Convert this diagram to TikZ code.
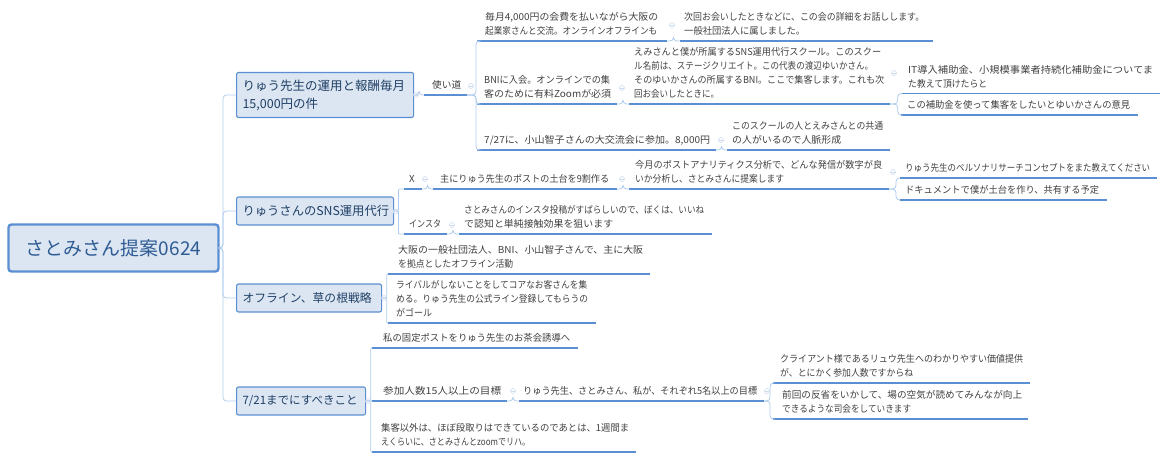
\documentclass[tikz,border=0pt]{standalone}
\usepackage{fontspec}
\setmainfont{Noto Sans CJK JP}
\usetikzlibrary{calc}
\definecolor{boxfill}{HTML}{DCE6F2}
\definecolor{boxline}{HTML}{5B8FD3}
\definecolor{connline}{HTML}{AECBEE}
\definecolor{navy}{HTML}{1F3F66}
\definecolor{rootink}{HTML}{2F5C94}
\definecolor{ink}{HTML}{404040}
\definecolor{dotc}{HTML}{CFDBEE}
\tikzset{
  rootbox/.style={draw=boxline,fill=boxfill,line width=2.4pt,rounded corners=3pt,inner sep=0pt,text=rootink,font=\fontsize{19}{23}\selectfont},
  mainbox/.style={draw=boxline,fill=boxfill,line width=1.1pt,rounded corners=2pt,inner sep=0pt,text=navy,align=left},
  topictext/.style={anchor=south west,inner sep=0pt,text depth=5pt,text=ink,align=left,font=\fontsize{9.6}{14}\selectfont},
  uline/.style={draw=boxline,line width=1.3pt},
  conn/.style={draw=connline,line width=.8pt,rounded corners=3.5pt},
  sqconn/.style={draw=connline,line width=.8pt,rounded corners=.8pt},
  dotm/.style={circle,draw=dotc,line width=.6pt,minimum size=5pt,inner sep=0pt,
    path picture={\draw[dotc,line width=.5pt] (path picture bounding box.west) -- (path picture bounding box.east);}}
}
% one text line stretched or narrowed to a given width
\newsavebox{\fitbox}
\newcommand{\fl}[2]{\sbox{\fitbox}{#2}\pgfmathsetmacro{\fitr}{#1/\the\wd\fitbox}\scalebox{\fitr}[1]{\usebox{\fitbox}}}
% name, x0, x1, y, text x, lines
\newcommand{\topic}[6]{%
  \coordinate (#1-l) at (#2,#4);
  \coordinate (#1-r) at (#3,#4);
  \node[topictext] (#1) at (#5,#4-1) {#6};
  \draw[uline] (#1-l) -- (#1-r);
}
% from, to, fraction of gap where the vertical runs
\newcommand{\link}[3]{\draw[conn] (#1) -- ($(#1)!#3!(#2 |- #1)$) |- (#2);}
\newcommand{\slink}[3]{\draw[sqconn] (#1) -- ($(#1)!#3!(#2 |- #1)$) |- (#2);}
\begin{document}
\begin{tikzpicture}[x=1pt,y=-1pt]
\useasboundingbox (0,0) rectangle (1169,462);
% root and main branches
\node[rootbox,minimum width=210pt,minimum height=47pt] (root) at (113.5,248) {さとみさん提案0624};
\node[mainbox,anchor=west,minimum width=177pt,minimum height=45pt,text width=165pt,inner xsep=6pt,font=\fontsize{12.5}{18}\selectfont] (b1) at (236,95) {りゅう先生の運用と報酬毎月\\15,000円の件};
\node[mainbox,anchor=west,minimum width=157pt,minimum height=28pt,text width=145pt,inner xsep=6pt,font=\fontsize{12.3}{18}\selectfont] (b2) at (236,211) {りゅうさんのSNS運用代行};
\node[mainbox,anchor=west,minimum width=145pt,minimum height=28pt,text width=133pt,inner xsep=6pt,font=\fontsize{11.8}{18}\selectfont] (b3) at (236,298) {オフライン、草の根戦略};
\node[mainbox,anchor=west,minimum width=129pt,minimum height=28pt,text width=117pt,inner xsep=6pt,font=\fontsize{11.5}{18}\selectfont] (b4) at (236,401) {7/21までにすべきこと};
\foreach \b in {b1,b2,b3,b4} {\draw[conn] (root.east) -- (223,248) |- (\b.west);}
% branch 1
\topic{use}{424}{467}{95}{432}{\fl{29}{使い道}}
\topic{a1}{477}{667}{41}{485}{\fl{173}{毎月4,000円の会費を払いながら大阪の}\\\fl{172}{起業家さんと交流。オンラインオフラインも}}
\topic{a1b}{680}{933}{41}{684}{\fl{240}{次回お会いしたときなどに、この会の詳細をお話しします。}\\\fl{121}{一般社団法人に属しました。}}
\topic{a2}{477}{617}{104}{484}{\fl{126}{BNIに入会。オンラインでの集}\\\fl{127}{客のために有料Zoomが必須}}
\topic{a2b}{629}{890}{104}{634}{\fl{247}{えみさんと僕が所属するSNS運用代行スクール。このスクー}\\\fl{239}{ル名前は、ステージクリエイト。この代表の渡辺ゆいかさん。}\\\fl{250}{そのゆいかさんの所属するBNI。ここで集客します。これも次}\\\fl{85}{回お会いしたときに。}}
\topic{a2c}{901}{1160}{93.5}{908}{\fl{245}{IT導入補助金、小規模事業者持続化補助金についてま}\\\fl{79}{た教えて頂けたらと}}
\topic{a2d}{901}{1138}{115}{907}{\fl{223}{この補助金を使って集客をしたいとゆいかさんの意見}}
\topic{a3}{477}{716}{150}{484}{\fl{226}{7/27に、小山智子さんの大交流会に参加。8,000円}}
\topic{a3b}{727}{890}{150}{732}{\fl{151}{このスクールの人とえみさんとの共通}\\\fl{109}{の人がいるので人脈形成}}
\coordinate (b1r) at (b1.east);
\coordinate (b2r) at (b2.east);
\coordinate (b3r) at (b3.east);
\coordinate (b4r) at (b4.east);
\link{b1r}{use-l}{.5}
\link{use-r}{a1-l}{.9}
\link{use-r}{a2-l}{.9}
\link{use-r}{a3-l}{.9}
\link{a1-r}{a1b-l}{.5}
\link{a2-r}{a2b-l}{.5}
\link{a3-r}{a3b-l}{.5}
\link{a2b-r}{a2c-l}{.7}
\link{a2b-r}{a2d-l}{.7}
% branch 2
\topic{x}{404}{422}{189}{409}{X}
\topic{x1}{433}{617}{189}{440}{\fl{169}{主にりゅう先生のポストの土台を9割作る}}
\topic{x2}{629}{889}{189}{635}{\fl{247}{今月のポストアナリティクス分析で、どんな発信が数字が良}\\\fl{149}{いか分析し、さとみさんに提案します}}
\topic{x3}{900}{1157}{178}{905}{\fl{245}{りゅう先生のペルソナリサーチコンセプトをまた教えてください}}
\topic{x4}{900}{1107}{200}{905}{\fl{194}{ドキュメントで僕が土台を作り、共有する予定}}
\topic{i}{404}{447}{234}{409}{\fl{32}{インスタ}}
\topic{i1}{459}{712}{234}{464}{\fl{240}{さとみさんのインスタ投稿がすばらしいので、ぼくは、いいね}\\\fl{149}{で認知と単純接触効果を狙います}}
\slink{b2r}{x-l}{.45}
\slink{b2r}{i-l}{.45}
\link{x-r}{x1-l}{.5}
\link{x1-r}{x2-l}{.5}
\link{x2-r}{x3-l}{.63}
\link{x2-r}{x4-l}{.63}
\link{i-r}{i1-l}{.5}
% branch 3
\topic{o1}{388}{650}{274}{398}{\fl{245}{大阪の一般社団法人、BNI、小山智子さんで、主に大阪}\\\fl{115}{を拠点としたオフライン活動}}
\topic{o2}{388}{596}{323}{396}{\fl{191}{ライバルがしないことをしてコアなお客さんを集}\\\fl{192}{める。りゅう先生の公式ライン登録してもらうの}\\\fl{36}{がゴール}}
\slink{b3r}{o1-l}{.8}
\slink{b3r}{o2-l}{.8}
% branch 4
\topic{d1}{372}{578}{348}{383}{\fl{187}{私の固定ポストをりゅう先生のお茶会誘導へ}}
\topic{d2}{372}{507}{401}{383}{\fl{118}{参加人数15人以上の目標}}
\topic{d3}{519}{764}{401}{523}{\fl{234}{りゅう先生、さとみさん、私が、それぞれ5名以上の目標}}
\topic{d4}{773}{1030}{383}{780}{\fl{243}{クライアント様であるリュウ先生へのわかりやすい価値提供}\\\fl{133}{が、とにかく参加人数ですからね}}
\topic{d5}{773}{1028}{419}{782}{\fl{240}{前回の反省をいかして、場の空気が読めてみんなが向上}\\\fl{129}{できるような司会をしていきます}}
\topic{d6}{372}{636}{452}{381}{\fl{248}{集客以外は、ほぼ段取りはできているのであとは、1週間ま}\\\fl{149}{えくらいに、さとみさんとzoomでリハ。}}
\slink{b4r}{d1-l}{.8}
\slink{b4r}{d2-l}{.8}
\slink{b4r}{d6-l}{.8}
\link{d2-r}{d3-l}{.5}
\link{d3-r}{d4-l}{.67}
\link{d3-r}{d5-l}{.67}
% collapse markers
\foreach \p/\q in {m1/{416,95},m2/{471,86},m3/{672,25},m4/{622,88},m5/{894,73},m6/{721,140},m7/{425,179},m8/{622,179},m9/{893,172},m10/{452,225},m11/{395.5,211.5},m12/{384,298},m13/{368,401},m14/{513,391},m15/{767,391}}
  {\node[dotm] (\p) at (\q) {};}
\end{tikzpicture}
\end{document}
